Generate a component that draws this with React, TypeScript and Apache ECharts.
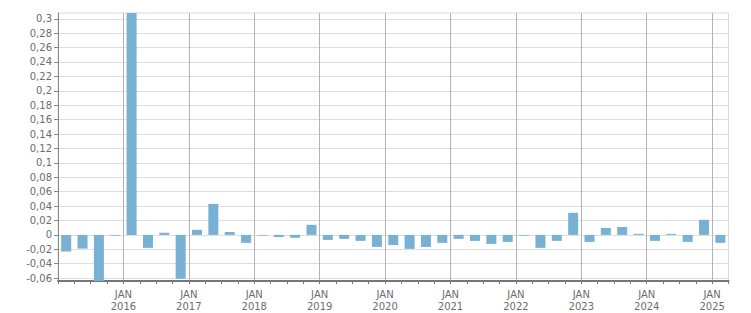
import { useEffect, useRef } from "react";
import * as echarts from "echarts";

// Quarterly categories
const quarters = [
  "2015 Q1", "2015 Q2", "2015 Q3", "2015 Q4",
  "2016 Q1", "2016 Q2", "2016 Q3", "2016 Q4",
  "2017 Q1", "2017 Q2", "2017 Q3", "2017 Q4",
  "2018 Q1", "2018 Q2", "2018 Q3", "2018 Q4",
  "2019 Q1", "2019 Q2", "2019 Q3", "2019 Q4",
  "2020 Q1", "2020 Q2", "2020 Q3", "2020 Q4",
  "2021 Q1", "2021 Q2", "2021 Q3", "2021 Q4",
  "2022 Q1", "2022 Q2", "2022 Q3", "2022 Q4",
  "2023 Q1", "2023 Q2", "2023 Q3", "2023 Q4",
  "2024 Q1", "2024 Q2", "2024 Q3", "2024 Q4",
  "2025 Q1",
];

const values = [
  -0.023, -0.019, -0.065, -0.001,
  0.35, -0.018, 0.003, -0.061,
  0.007, 0.043, 0.004, -0.011,
  -0.001, -0.003, -0.004, 0.014,
  -0.007, -0.0055, -0.0083, -0.0167,
  -0.014, -0.0194, -0.0167, -0.011,
  -0.0055, -0.0083, -0.0125, -0.0097,
  -0.001, -0.018, -0.0083, 0.0306,
  -0.0097, 0.0097, 0.011, 0.0015,
  -0.0083, 0.0015, -0.0097, 0.021,
  -0.011,
];

// Tick labels
const xTickYears = [2016, 2017, 2018, 2019, 2020, 2021, 2022, 2023, 2024, 2025];
const xTickMonth = "JAN";
const yTickMin = -0.06;
const yTickMax = 0.3;
const yTickStep = 0.02;

// Visible ranges
const yViewMin = -0.064;
const yViewMax = 0.308;
const xViewMin = 2015;
const xViewMax = 2025.25;

const quarterPos = (q: string) => {
  const [y, qq] = q.split(" Q");
  return Number(y) + (Number(qq) - 1) / 4 + 0.125;
};

const FONT = "DejaVu Sans";
const LABEL_COLOR = "#6b6b72";

export default function App() {
  const ref = useRef<HTMLDivElement>(null);
  useEffect(() => {
    if (!ref.current) return;
    const chart = echarts.init(ref.current, null, { renderer: "svg" });
    const W = 751, H = 313;
    const left = 58, right = W - 728.5, top = 13, bottom = H - 281;
    const h = H - top - bottom;
    const scale = h / (yViewMax - yViewMin);
    const topB = top + (yViewMax - yTickMax) * scale;
    const bottomB = bottom + (yTickMin - yViewMin) * scale;

    chart.setOption({
      animation: false,
      textStyle: { fontFamily: FONT },
      grid: [
        {
          left, right, top, bottom,
          show: true,
          borderColor: "#dcdcdc",
          borderWidth: 1,
          backgroundColor: "transparent",
        },
        { left, right, top: topB, bottom: bottomB },
      ],
      xAxis: [
        {
          type: "value",
          gridIndex: 0,
          min: xViewMin,
          max: xViewMax,
          interval: 0.25,
          position: "bottom",
          axisLine: { show: true, onZero: false, lineStyle: { color: "#777", width: 2 } },
          axisTick: { show: true, length: 3, lineStyle: { color: "#777" } },
          axisLabel: { show: false },
          splitLine: { show: false },
        },
        {
          type: "value",
          gridIndex: 0,
          min: xViewMin,
          max: xViewMax,
          interval: 1,
          position: "bottom",
          axisLine: { show: false, onZero: false },
          axisTick: { show: false },
          axisLabel: {
            show: true,
            margin: 7,
            fontFamily: FONT,
            fontSize: 10,
            lineHeight: 12,
            color: LABEL_COLOR,
            formatter: (v: number) => {
              const r = Math.round(v * 100) / 100;
              return xTickYears.includes(r) ? `${xTickMonth}\n${r}` : "";
            },
          },
          splitLine: {
            show: true,
            showMinLine: false,
            showMaxLine: false,
            lineStyle: { color: "#b4b4b4", width: 1 },
          },
        },
        { type: "value", gridIndex: 1, show: false, min: 0, max: 1 },
      ],
      yAxis: [
        {
          type: "value",
          gridIndex: 0,
          min: yViewMin,
          max: yViewMax,
          axisLine: { show: true, onZero: false, lineStyle: { color: "#888", width: 1 } },
          axisTick: { show: false },
          axisLabel: { show: false },
          splitLine: { show: false },
        },
        {
          type: "value",
          gridIndex: 1,
          min: yTickMin,
          max: yTickMax,
          interval: yTickStep,
          axisLine: { show: false, onZero: false },
          axisTick: { show: true, length: 4, lineStyle: { color: "#888" } },
          axisLabel: {
            margin: 6,
            fontFamily: FONT,
            fontSize: 10,
            color: LABEL_COLOR,
            formatter: (v: number) => String(parseFloat(v.toFixed(4))).replace(".", ","),
          },
          splitLine: { show: true, lineStyle: { color: "#dedede", width: 1 } },
        },
      ],
      series: [
        {
          type: "bar",
          xAxisIndex: 0,
          yAxisIndex: 0,
          barWidth: 10,
          clip: true,
          itemStyle: { color: "#78b1d4" },
          data: quarters.map((q, i) => [quarterPos(q), values[i]]),
        },
      ],
    });
    return () => chart.dispose();
  }, []);
  return (
    <div
      ref={ref}
      style={{ position: "absolute", left: 0, top: 0, width: 751, height: 313 }}
    />
  );
}
